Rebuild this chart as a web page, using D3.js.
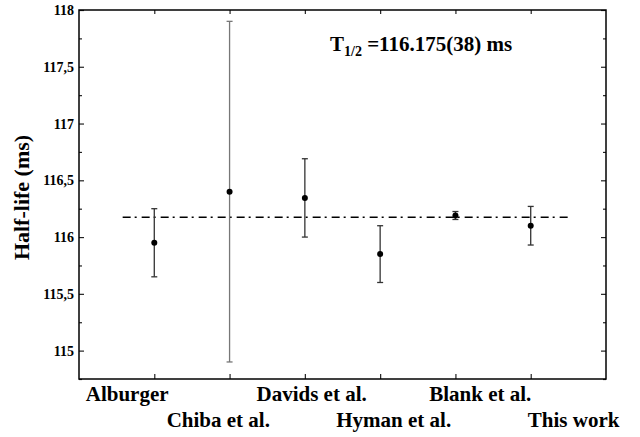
<!DOCTYPE html>
<html>
<head>
<meta charset="utf-8">
<script src="https://cdn.jsdelivr.net/npm/d3@7/dist/d3.min.js"></script>
<style>
  body { margin: 0; background: #fff; }
  text { font-family: "Liberation Serif", "Times New Roman", serif; font-weight: bold; }
</style>
</head>
<body>
<div id="chart"></div>
<script>
// measurements (half-life in ms)
var labels = ["Alburger", "Chiba et al.", "Davids et al.", "Hyman et al.", "Blank et al.", "This work"];
var labelRow = [0, 1, 0, 1, 0, 1];          // which text row the label sits on
var labelPos = [0.64, 1.85, 3.09, 4.18, 5.33, 6.57]; // label centre, in x units
var halfLife = [115.95, 116.40, 116.345, 115.85, 116.19, 116.10];
var errors = [0.30, 1.50, 0.345, 0.25, 0.035, 0.17];
var average = 116.175;
var yTicks = [115, 115.5, 116, 116.5, 117, 117.5, 118];

var width = 640, height = 437;
var margin = {top: 10, right: 34, bottom: 58, left: 79};

var svg = d3.select("#chart").append("svg")
    .attr("width", width)
    .attr("height", height);

// set the ranges
var x = d3.scaleLinear().domain([0, 7]).range([margin.left, width - margin.right]);
var y = d3.scaleLinear().domain([114.75, 118]).range([height - margin.bottom, margin.top]);

var x0 = x.range()[0], x1 = x.range()[1];
var y0 = y.range()[0], y1 = y.range()[1];

// inward ticks on all four sides
var xt = d3.range(1, 7);
var yMinor = d3.range(114.75, 118.01, 0.25).filter(function (v) { return Math.abs((v * 2) % 1) > 0.01; });

svg.append("g")
    .attr("transform", "translate(0," + y0 + ")")
    .call(d3.axisBottom(x).tickValues(xt).tickSize(-5).tickFormat(""))
    .call(function (g) { g.select(".domain").remove(); });
svg.append("g")
    .attr("transform", "translate(0," + y1 + ")")
    .call(d3.axisTop(x).tickValues(xt).tickSize(-4).tickFormat(""))
    .call(function (g) { g.select(".domain").remove(); });

var left = svg.append("g")
    .attr("transform", "translate(" + x0 + ",0)")
    .call(d3.axisLeft(y).tickValues(yTicks).tickSize(-5).tickPadding(5)
        .tickFormat(function (d) { return String(d).replace(".", ","); }))
    .call(function (g) { g.select(".domain").remove(); });
left.selectAll("text")
    .style("font-size", "14px")
    .style("font-family", "Liberation Serif")
    .style("font-weight", "bold")
    .attr("fill", "#000");
svg.append("g")
    .attr("transform", "translate(" + x0 + ",0)")
    .call(d3.axisLeft(y).tickValues(yMinor).tickSize(-3).tickFormat(""))
    .call(function (g) { g.select(".domain").remove(); });

svg.append("g")
    .attr("transform", "translate(" + x1 + ",0)")
    .call(d3.axisRight(y).tickValues(yTicks).tickSize(-5).tickFormat(""))
    .call(function (g) { g.select(".domain").remove(); });
svg.append("g")
    .attr("transform", "translate(" + x1 + ",0)")
    .call(d3.axisRight(y).tickValues(yMinor).tickSize(-3).tickFormat(""))
    .call(function (g) { g.select(".domain").remove(); });

svg.selectAll(".tick line").attr("stroke", "#222").attr("stroke-width", 1.2);

// frame
svg.append("rect")
    .attr("x", x0).attr("y", y1)
    .attr("width", x1 - x0).attr("height", y0 - y1)
    .attr("fill", "none")
    .attr("stroke", "#000")
    .attr("stroke-width", 1.5);

// weighted average line
svg.append("line")
    .attr("x1", x(0.58)).attr("x2", x(6.5))
    .attr("y1", y(average)).attr("y2", y(average))
    .attr("stroke", "#000")
    .attr("stroke-width", 1.6)
    .attr("stroke-dasharray", "8,4,2,5");

// error bars
var bars = svg.selectAll(".err")
    .data(halfLife)
    .enter().append("g")
    .attr("class", "err")
    .attr("stroke", function (d, i) { return i === 1 ? "#777" : "#333"; })
    .attr("stroke-width", 1.3);
bars.append("line")
    .attr("x1", function (d, i) { return x(i + 1); })
    .attr("x2", function (d, i) { return x(i + 1); })
    .attr("y1", function (d, i) { return y(d + errors[i]); })
    .attr("y2", function (d, i) { return y(d - errors[i]); });
bars.append("line")
    .attr("x1", function (d, i) { return x(i + 1) - 3; })
    .attr("x2", function (d, i) { return x(i + 1) + 3; })
    .attr("y1", function (d, i) { return y(d + errors[i]); })
    .attr("y2", function (d, i) { return y(d + errors[i]); });
bars.append("line")
    .attr("x1", function (d, i) { return x(i + 1) - 3; })
    .attr("x2", function (d, i) { return x(i + 1) + 3; })
    .attr("y1", function (d, i) { return y(d - errors[i]); })
    .attr("y2", function (d, i) { return y(d - errors[i]); });

svg.selectAll(".pt")
    .data(halfLife)
    .enter().append("circle")
    .attr("class", "pt")
    .attr("cx", function (d, i) { return x(i + 1); })
    .attr("cy", function (d) { return y(d); })
    .attr("r", 3)
    .attr("fill", "#000");

// category labels, two staggered rows
svg.selectAll(".cat")
    .data(labels)
    .enter().append("text")
    .attr("class", "cat")
    .attr("x", function (d, i) { return x(labelPos[i]); })
    .attr("y", function (d, i) { return labelRow[i] === 0 ? 401 : 427; })
    .attr("text-anchor", "middle")
    .style("font-size", "21px")
    .text(function (d) { return d; });

// y axis title
svg.append("text")
    .attr("transform", "translate(29," + ((y0 + y1) / 2 + 3) + ") rotate(-90)")
    .attr("text-anchor", "middle")
    .style("font-size", "22px")
    .text("Half-life (ms)");

// result annotation
var t = svg.append("text")
    .attr("x", 330).attr("y", 51)
    .style("font-size", "21px");
t.append("tspan").text("T");
t.append("tspan").attr("dy", 5).style("font-size", "14px").text("1/2");
t.append("tspan").attr("dy", -5).text(" =116.175(38) ms");
</script>
</body>
</html>
